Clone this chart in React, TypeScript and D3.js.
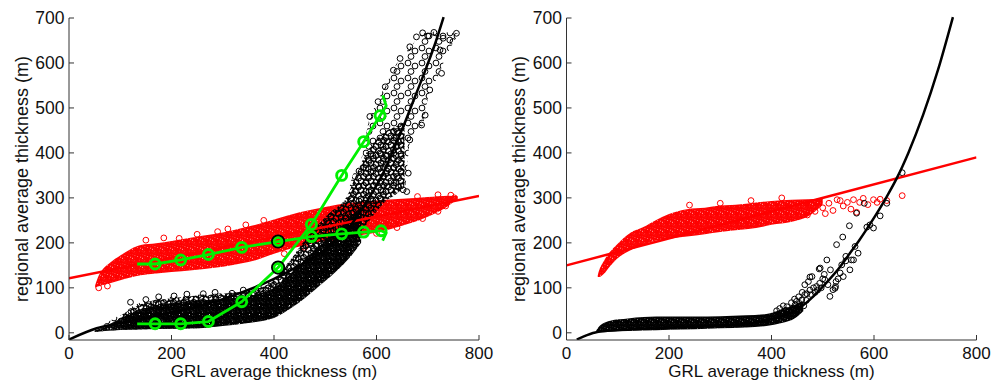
import React from "react";
import * as d3 from "d3";

// ---------------- axes ----------------
const X_TICKS = [0, 200, 400, 600, 800];
const Y_TICKS = [0, 100, 200, 300, 400, 500, 600, 700];
const X_DOMAIN = [0, 800];
const Y_DOMAIN = [-16, 700];
const X_LABEL = "GRL average thickness (m)";
const Y_LABEL = "regional average thickness (m)";

// ---------------- left panel ----------------
const leftRedFitX = [0, 800];
const leftRedFitY = [121, 304];
const leftBlackFitX = [0, 54, 100, 200, 300, 400, 450, 500, 522, 548, 568, 587, 613, 633, 652, 672, 698, 715, 731];
const leftBlackFitY = [-15, 10, 22, 45, 75, 120, 150, 185, 207, 236, 270, 303, 355, 407, 458, 516, 592, 645, 702];

const leftRedBandX = [51, 56, 65, 80, 100, 120, 140, 170, 200, 240, 280, 320, 360, 400, 450, 500, 550, 600, 650, 700, 740, 758];
const leftRedBandHi = [106, 122, 140, 156, 172, 186, 195, 199, 204, 212, 219, 228, 239, 252, 268, 280, 289, 294, 298, 302, 305, 304];
const leftRedBandLo = [101, 103, 106, 110, 117, 123, 128, 132, 135, 139, 144, 151, 160, 176, 192, 204, 214, 223, 238, 258, 282, 298];
const leftRedEdge = [
  [58, 100], [75, 104], [150, 206], [185, 211], [215, 210], [250, 219], [290, 225], [310, 231], [345, 240], [380, 250],
  [680, 303], [720, 307], [745, 306], [752, 300], [420, 176], [460, 190], [520, 207], [560, 214], [600, 221],
  [640, 234], [690, 254], [720, 270], [735, 282],
];

const leftBlackOuterX = [50, 70, 100, 130, 180, 240, 300, 350, 400, 430, 470, 510, 540, 555, 570, 585, 600, 620, 640, 655, 665, 690, 700, 720, 740, 758];
const leftBlackOuterHi = [6, 20, 40, 63, 77, 84, 88, 95, 118, 160, 222, 270, 300, 355, 385, 470, 510, 555, 600, 622, 634, 665, 668, 670, 668, 666];
const leftBlackOuterLo = [2, 4, 7, 9, 9, 11, 17, 23, 35, 60, 96, 130, 160, 200, 230, 260, 285, 300, 312, 320, 420, 460, 520, 570, 625, 660];
const leftBlackMidX = [100, 150, 200, 250, 300, 350, 400, 430, 470, 510, 540, 560, 580, 600, 620, 640, 655];
const leftBlackMidHi = [38, 68, 77, 83, 87, 94, 116, 158, 220, 268, 298, 350, 400, 430, 450, 460, 470];
const leftBlackMidLo = [7, 8, 9, 10, 17, 23, 35, 60, 96, 130, 160, 205, 240, 270, 295, 310, 330];
const leftBlackCoreX = [50, 70, 100, 150, 200, 250, 300, 350, 400, 440, 480, 520, 550, 570];
const leftBlackCoreHi = [5, 14, 32, 55, 66, 72, 76, 82, 100, 140, 185, 225, 260, 280];
const leftBlackCoreLo = [2, 4, 6, 8, 9, 10, 15, 22, 33, 60, 96, 135, 170, 200];
const leftBlackEdge = [
  [587, 481], [603, 514], [617, 547], [633, 584], [646, 610], [665, 636], [678, 658], [690, 667], [700, 660],
  [712, 668], [724, 629], [730, 655], [743, 651], [756, 666], [727, 577], [704, 540], [695, 484], [688, 462],
  [665, 429], [662, 355], [659, 314], [652, 318],
  [120, 68], [150, 74], [175, 80], [205, 82], [230, 86], [262, 87], [285, 90], [318, 88], [340, 95], [370, 100], [395, 110],
];

const greenFlatX = [133, 168, 218, 272, 337, 408, 473, 532, 575, 609, 619, 612];
const greenFlatY = [153, 153, 162, 174, 190, 203, 214, 220, 224, 227, 222, 205];
const greenSteepX = [133, 168, 218, 272, 337, 408, 473, 532, 575, 607, 619, 612];
const greenSteepY = [20, 20, 20, 25, 69, 145, 241, 350, 425, 483, 505, 528];
const greenHighlightX = 408;

// ---------------- right panel ----------------
const rightRedFitX = [0, 800];
const rightRedFitY = [150, 390];
const rightBlackFitX = [20, 40, 60, 100, 150, 200, 250, 300, 350, 378, 417, 449, 476, 506, 534, 553, 572, 594, 625, 645, 667, 696, 725, 754];
const rightBlackFitY = [-15, -5, 2, 6, 9, 11, 13, 16, 20, 25, 36, 51, 75, 110, 147, 177, 207, 245, 303, 345, 400, 485, 585, 702];

const rightRedBandX = [61, 64, 72, 85, 98, 124, 150, 175, 200, 235, 270, 300, 340, 370, 400, 440, 470, 500];
const rightRedBandHi = [128, 140, 158, 180, 196, 222, 235, 251, 264, 275, 278, 283, 286, 290, 293, 296, 297, 298];
const rightRedBandLo = [124, 124, 130, 148, 164, 183, 196, 205, 209, 214, 219, 224, 229, 233, 240, 247, 258, 285];
const rightRedSparse = [
  [470, 262], [478, 285], [485, 270], [492, 292], [500, 278], [505, 265], [512, 288], [520, 272], [528, 296],
  [534, 294], [540, 282], [548, 290], [555, 275], [560, 296], [566, 268], [572, 290], [579, 299], [588, 285],
  [599, 296], [606, 290], [612, 297], [625, 294], [655, 305], [240, 284], [300, 288], [360, 294], [420, 300],
];

const rightBlackBandX = [58, 62, 70, 85, 120, 150, 200, 250, 300, 350, 390, 420, 445, 462];
const rightBlackBandHi = [5, 12, 20, 27, 32, 35, 36, 36, 37, 39, 42, 52, 62, 70];
const rightBlackBandLo = [1, 1, 2, 3, 4, 5, 7, 8, 10, 12, 15, 22, 32, 48];
const rightBlackTail = [
  [410, 49], [416, 54], [420, 45], [423, 60], [428, 50], [430, 58], [435, 48], [439, 67], [442, 55], [445, 75],
  [446, 62], [449, 70], [453, 80], [455, 65], [459, 73], [460, 90], [463, 60], [465, 85], [465, 107], [468, 72],
  [469, 87], [472, 114], [475, 95], [475, 124], [478, 85], [479, 125], [482, 100], [485, 90], [488, 103],
  [490, 95], [493, 142], [494, 110], [495, 144], [497, 100], [500, 120], [503, 130], [504, 118], [508, 162],
  [510, 107], [514, 81], [515, 140], [520, 96], [524, 99], [525, 103], [526, 114], [527, 196], [530, 120],
  [534, 133], [537, 151], [539, 213], [540, 125], [545, 160], [545, 170], [552, 238], [553, 140], [556, 162],
  [560, 162], [563, 192], [566, 266], [569, 177], [581, 288], [586, 235], [592, 240], [599, 233], [612, 260],
  [625, 288], [655, 356],
];

// ---------------- styles (not data) ----------------
const PAT_DENSE = [[0.5, 0.8], [4.2, 1.6], [7.8, 0.5], [2.3, 4.3], [6.1, 4.9], [9.2, 3.9], [4.0, 7.6], [8.0, 7.9]];
const PAT_VDENSE = [...PAT_DENSE, [1.0, 7.0], [6.5, 2.8], [8.7, 6.0]];
const PAT_MED = [[1, 1], [6, 2.5], [3.5, 5.5], [8.5, 7]];
const PAT_SPARSE = [[2, 3], [9, 6], [5, 11.5]];
const R = 2.9;
const FONT = "'Liberation Sans', Arial, Helvetica, sans-serif";

function CirclePattern({ id, w, h, pts, color, sw = 1 }: { id: string; w: number; h: number; pts: number[][]; color: string; sw?: number }) {
  const offs = [-1, 0, 1];
  const items: React.ReactElement[] = [];
  pts.forEach(([px, py], i) => {
    offs.forEach((dx) => offs.forEach((dy) => {
      items.push(
        <circle key={`${i}-${dx}-${dy}`} cx={px + dx * w} cy={py + dy * h} r={R} fill="none" stroke={color} strokeWidth={sw} />
      );
    }));
  });
  return (
    <pattern id={id} patternUnits="userSpaceOnUse" width={w} height={h}>
      {items}
    </pattern>
  );
}

function zip(xs: number[], ys: number[]) {
  return xs.map((x, i) => [x, ys[i]]);
}

function Panel({ x0, id, children }: { x0: number; id: string; children: (x: any, y: any) => React.ReactNode }) {
  const x = d3.scaleLinear().domain(X_DOMAIN).range([x0, x0 + 410]);
  const y = d3.scaleLinear().domain(Y_DOMAIN).range([340, 18]);
  const yBottom = y(Y_DOMAIN[0]);
  const axisColor = "#333";
  return (
    <g>
      <defs>
        <clipPath id={`clip-${id}`}>
          <rect x={x0} y={16} width={410} height={yBottom - 16} />
        </clipPath>
      </defs>
      <g clipPath={`url(#clip-${id})`}>{children(x, y)}</g>
      <line x1={x0} x2={x0} y1={y(700)} y2={yBottom} stroke={axisColor} strokeWidth={1} />
      <line x1={x0} x2={x0 + 410} y1={yBottom} y2={yBottom} stroke={axisColor} strokeWidth={1} />
      {X_TICKS.map((t) => (
        <g key={`xt${t}`}>
          <line x1={x(t)} x2={x(t)} y1={yBottom} y2={yBottom - 5} stroke={axisColor} strokeWidth={1} />
          <text x={x(t)} y={358.5} textAnchor="middle" fontSize={17} fontFamily={FONT} fill="#111">{t}</text>
        </g>
      ))}
      {Y_TICKS.map((t) => (
        <g key={`yt${t}`}>
          <line x1={x0} x2={x0 + 5} y1={y(t)} y2={y(t)} stroke={axisColor} strokeWidth={1} />
          <text x={x0 - 4.5} y={y(t) + 6} textAnchor="end" fontSize={17.5} fontFamily={FONT} fill="#111">{t}</text>
        </g>
      ))}
      <text x={x0 + 205} y={377} textAnchor="middle" fontSize={17} fontFamily={FONT} fill="#111">{X_LABEL}</text>
      <text transform={`translate(${x0 - 41.5},${(18 + yBottom) / 2}) rotate(-90)`} textAnchor="middle" fontSize={18} fontFamily={FONT} fill="#111">{Y_LABEL}</text>
    </g>
  );
}

function band(x: any, y: any, X: number[], hi: number[], lo: number[]) {
  return d3.area<number>()
    .x((_, i) => x(X[i]))
    .y0((_, i) => y(lo[i]))
    .y1((_, i) => y(hi[i]))
    .curve(d3.curveMonotoneX)(X) || "";
}

function curve(x: any, y: any, X: number[], Y: number[], mono = true) {
  const gen = d3.line<number[]>().x((d) => x(d[0])).y((d) => y(d[1]));
  if (mono) gen.curve(d3.curveMonotoneX);
  return gen(zip(X, Y)) || "";
}

function Dots({ x, y, pts, color }: { x: any; y: any; pts: number[][]; color: string }) {
  return (
    <g>
      {pts.map((p, i) => (
        <circle key={i} cx={x(p[0])} cy={y(p[1])} r={R} fill="none" stroke={color} strokeWidth={1} />
      ))}
    </g>
  );
}

function GreenLine({ x, y, X, Y }: { x: any; y: any; X: number[]; Y: number[] }) {
  const green = "#00f000";
  const markers = zip(X, Y).slice(1, X.length - 2);
  return (
    <g>
      <path d={curve(x, y, X, Y, false)} fill="none" stroke={green} strokeWidth={2.8} strokeLinejoin="round" />
      {markers.map((p, i) =>
        p[0] === greenHighlightX ? (
          <g key={i}>
            <circle cx={x(p[0])} cy={y(p[1])} r={6} fill="none" stroke="#000" strokeWidth={2.2} />
            <circle cx={x(p[0])} cy={y(p[1])} r={4} fill="none" stroke={green} strokeWidth={2.6} />
          </g>
        ) : (
          <circle key={i} cx={x(p[0])} cy={y(p[1])} r={5} fill="none" stroke={green} strokeWidth={2.9} />
        )
      )}
    </g>
  );
}

export default function App() {
  return (
    <svg width={993} height={381} style={{ position: "absolute", left: 0, top: 0, background: "#fff" }}>
      <defs>
        <CirclePattern id="redVDense" w={10} h={9} pts={PAT_VDENSE} color="#ff0000" sw={1.05} />
        <CirclePattern id="blackMed" w={10} h={9} pts={PAT_MED} color="#000" sw={1.05} />
        <CirclePattern id="blackDense" w={10} h={9} pts={PAT_DENSE} color="#000" sw={1.1} />
        <CirclePattern id="blackVDense" w={10} h={9} pts={PAT_VDENSE} color="#000" sw={1.15} />
        <CirclePattern id="blackSparse" w={14} h={15} pts={PAT_SPARSE} color="#000" />
      </defs>
      <rect x={0} y={0} width={993} height={381} fill="#fff" />
      <Panel x0={69} id="left">
        {(x, y) => (
          <g>
            <path d={band(x, y, leftRedBandX, leftRedBandHi, leftRedBandLo)} fill="url(#redVDense)" />
            <Dots x={x} y={y} pts={leftRedEdge} color="#ff0000" />
            <path d={band(x, y, leftBlackOuterX, leftBlackOuterHi, leftBlackOuterLo)} fill="url(#blackSparse)" />
            <path d={band(x, y, leftBlackMidX, leftBlackMidHi, leftBlackMidLo)} fill="url(#blackMed)" />
            <path d={band(x, y, leftBlackCoreX, leftBlackCoreHi, leftBlackCoreLo)} fill="url(#blackDense)" />
            <Dots x={x} y={y} pts={leftBlackEdge} color="#000" />
            <path d={curve(x, y, leftRedFitX, leftRedFitY, false)} fill="none" stroke="#ff0000" strokeWidth={2.5} />
            <path d={curve(x, y, leftBlackFitX, leftBlackFitY)} fill="none" stroke="#000" strokeWidth={2.5} />
            <GreenLine x={x} y={y} X={greenSteepX} Y={greenSteepY} />
            <GreenLine x={x} y={y} X={greenFlatX} Y={greenFlatY} />
          </g>
        )}
      </Panel>
      <Panel x0={566.5} id="right">
        {(x, y) => (
          <g>
            <path d={band(x, y, rightRedBandX, rightRedBandHi, rightRedBandLo)} fill="url(#redVDense)" />
            <Dots x={x} y={y} pts={rightRedSparse} color="#ff0000" />
            <path d={band(x, y, rightBlackBandX, rightBlackBandHi, rightBlackBandLo)} fill="url(#blackVDense)" />
            <Dots x={x} y={y} pts={rightBlackTail} color="#000" />
            <path d={curve(x, y, rightRedFitX, rightRedFitY, false)} fill="none" stroke="#ff0000" strokeWidth={2.5} />
            <path d={curve(x, y, rightBlackFitX, rightBlackFitY)} fill="none" stroke="#000" strokeWidth={2.5} />
          </g>
        )}
      </Panel>
    </svg>
  );
}
